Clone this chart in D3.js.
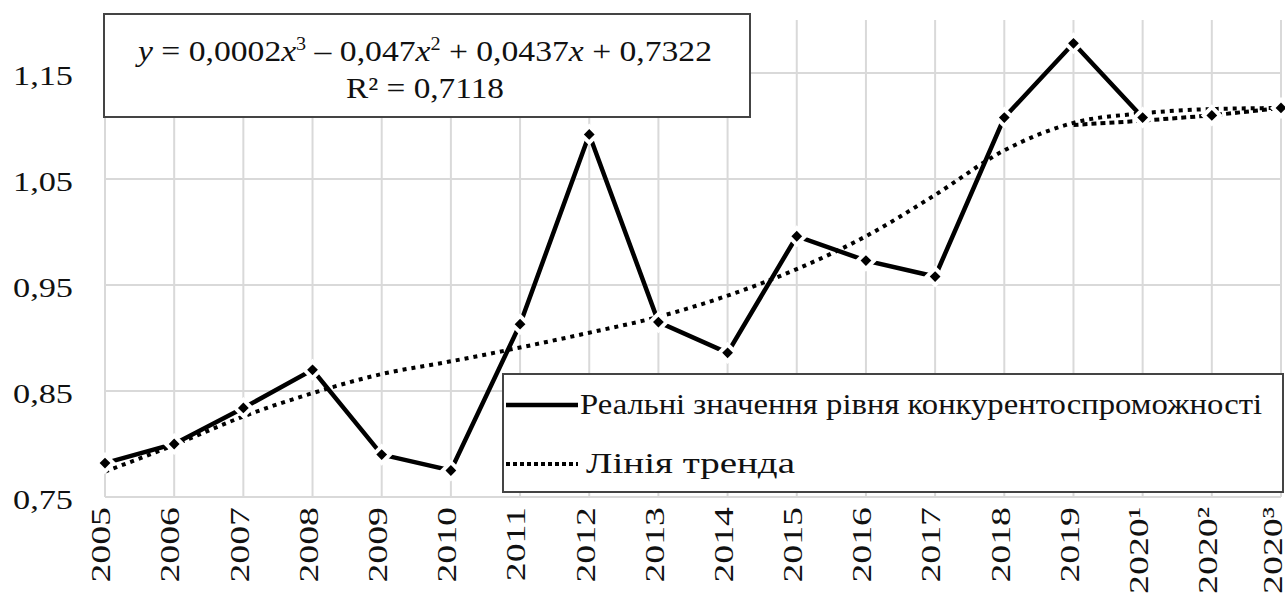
<!DOCTYPE html>
<html>
<head>
<meta charset="utf-8">
<script src="https://cdn.jsdelivr.net/npm/d3@7"></script>
<style>
  html, body { margin: 0; padding: 0; background: #fff; }
  svg text { font-family: "Liberation Serif", "Tinos", "Noto Serif", "DejaVu Serif", serif; fill: #111; }
</style>
</head>
<body>
<div id="chart"></div>
<script>
const years = ["2005", "2006", "2007", "2008", "2009", "2010", "2011", "2012", "2013",
  "2014", "2015", "2016", "2017", "2018", "2019", "2020¹", "2020²", "2020³"];
// реальні значення (до 2020¹)
const realValues = [0.782, 0.800, 0.834, 0.870, 0.790, 0.775, 0.913, 1.092, 0.915,
  0.886, 0.996, 0.973, 0.958, 1.108, 1.178, 1.108, null, null];
// прогнозна частина (пунктир)
const forecastValues = [null, null, null, null, null, null, null, null, null,
  null, null, null, null, null, 1.101, 1.105, 1.110, 1.117];
// лінія тренда
const trendValues = [0.774, 0.799, 0.826, 0.848, 0.866, 0.878, 0.891, 0.905, 0.920,
  0.940, 0.965, 0.996, 1.035, 1.077, 1.103, 1.112, 1.116, 1.117];
const yTicks = [0.75, 0.85, 0.95, 1.05, 1.15];

const width = 1285;
const height = 593;
const plotLeft = 105, plotRight = 1281, plotTop = 20, plotBottom = 497;

const svg = d3.select("#chart")
  .append("svg")
  .attr("width", width)
  .attr("height", height);

const x = d3.scalePoint().domain(years).range([plotLeft, plotRight]);
const y = d3.scaleLinear().domain([0.75, 1.2]).range([plotBottom, plotTop]);

const uk = d3.formatLocale({ decimal: ",", thousands: " ", grouping: [3], currency: ["", ""] });
const fmt = uk.format(".2f");

// сітка
const grid = svg.append("g").attr("stroke", "#d9d9d9").attr("stroke-width", 2);
years.forEach(d => {
  grid.append("line")
    .attr("x1", x(d)).attr("x2", x(d))
    .attr("y1", plotTop).attr("y2", plotBottom);
});
yTicks.forEach(v => {
  grid.append("line")
    .attr("x1", plotLeft).attr("x2", plotRight)
    .attr("y1", y(v)).attr("y2", y(v));
});

// вісь Y
const yAxis = svg.append("g")
  .attr("transform", `translate(${plotLeft},0)`)
  .call(d3.axisLeft(y).tickValues(yTicks).tickFormat(fmt).tickSize(0).tickPadding(32));
yAxis.select(".domain").remove();
yAxis.selectAll("text")
  .attr("font-size", 28)
  .attr("font-family", null)
  .attr("dy", "0.42em")
  .attr("textLength", 60)
  .attr("lengthAdjust", "spacingAndGlyphs");

// вісь X
const xAxis = svg.append("g")
  .attr("transform", `translate(0,${plotBottom})`)
  .call(d3.axisBottom(x).tickSize(0).tickPadding(0));
xAxis.select(".domain").remove();
xAxis.selectAll("text")
  .attr("font-size", 28)
  .attr("font-family", null)
  .attr("text-anchor", "end")
  .attr("transform", "rotate(-90) scale(1.35,1)")
  .attr("x", -10 / 1.35)
  .attr("y", (d, i) => i === years.length - 1 ? -9 : -5)
  .attr("dy", "0.35em");

// лінія тренда
const line = d3.line()
  .defined(d => d.v != null)
  .x(d => x(d.k))
  .y(d => y(d.v));

const trendPts = years.map((k, i) => ({ k, v: trendValues[i] }));
svg.append("path")
  .datum(trendPts)
  .attr("fill", "none")
  .attr("stroke", "#000")
  .attr("stroke-width", 4)
  .attr("stroke-dasharray", "4,5")
  .attr("d", line.curve(d3.curveMonotoneX));

line.curve(d3.curveLinear);

// прогноз
const fcPts = years.map((k, i) => ({ k, v: forecastValues[i] }));
svg.append("path")
  .datum(fcPts)
  .attr("fill", "none")
  .attr("stroke", "#000")
  .attr("stroke-width", 4)
  .attr("stroke-dasharray", "5,4")
  .attr("d", line);

// реальні значення
const realPts = years.map((k, i) => ({ k, v: realValues[i] }));
svg.append("path")
  .datum(realPts)
  .attr("fill", "none")
  .attr("stroke", "#000")
  .attr("stroke-width", 4.5)
  .attr("d", line);

const diamond = d3.symbol().type(d3.symbolSquare).size(135);
const markerPts = realPts.filter(d => d.v != null)
  .concat(fcPts.filter((d, i) => d.v != null && realValues[i] == null));
svg.append("g")
  .selectAll("path")
  .data(markerPts)
  .join("path")
  .attr("transform", d => `translate(${x(d.k)},${y(d.v)}) rotate(45)`)
  .attr("d", diamond)
  .attr("fill", "#000")
  .attr("stroke", "#fff")
  .attr("stroke-width", 4);

// рівняння
svg.append("rect")
  .attr("x", 104).attr("y", 14)
  .attr("width", 646).attr("height", 103)
  .attr("fill", "#fff")
  .attr("stroke", "#444")
  .attr("stroke-width", 2);

const eq = svg.append("text")
  .attr("x", 138).attr("y", 61)
  .attr("font-size", 30)
  .attr("textLength", 574)
  .attr("lengthAdjust", "spacingAndGlyphs");
const parts = [
  ["y", "italic", 0], [" = 0,0002", "normal", 0], ["x", "italic", 0], ["3", "normal", 1],
  [" – 0,047", "normal", 0], ["x", "italic", 0], ["2", "normal", 1],
  [" + 0,0437", "normal", 0], ["x", "italic", 0], [" + 0,7322", "normal", 0]
];
let raised = false;
parts.forEach(p => {
  const t = eq.append("tspan")
    .attr("font-style", p[1])
    .text(p[0]);
  if (p[2]) {
    t.attr("font-size", 18).attr("dy", -11);
    raised = true;
  } else if (raised) {
    t.attr("dy", 11);
    raised = false;
  }
});
svg.append("text")
  .attr("x", 346).attr("y", 98)
  .attr("font-size", 30)
  .attr("textLength", 158)
  .attr("lengthAdjust", "spacingAndGlyphs")
  .text("R² = 0,7118");

// легенда
svg.append("rect")
  .attr("x", 503).attr("y", 374)
  .attr("width", 780).attr("height", 118)
  .attr("fill", "#fff")
  .attr("stroke", "#444")
  .attr("stroke-width", 2);

svg.append("line")
  .attr("x1", 506).attr("x2", 578)
  .attr("y1", 405).attr("y2", 405)
  .attr("stroke", "#000").attr("stroke-width", 4.5);
svg.append("text")
  .attr("x", 580).attr("y", 414)
  .attr("font-size", 29)
  .attr("textLength", 682)
  .attr("lengthAdjust", "spacingAndGlyphs")
  .text("Реальні значення рівня конкурентоспроможності");

svg.append("line")
  .attr("x1", 506).attr("x2", 578)
  .attr("y1", 464).attr("y2", 464)
  .attr("stroke", "#000").attr("stroke-width", 4)
  .attr("stroke-dasharray", "4,3");
svg.append("text")
  .attr("x", 586).attr("y", 473)
  .attr("font-size", 29)
  .attr("textLength", 209)
  .attr("lengthAdjust", "spacingAndGlyphs")
  .text("Лінія тренда");
</script>
</body>
</html>
